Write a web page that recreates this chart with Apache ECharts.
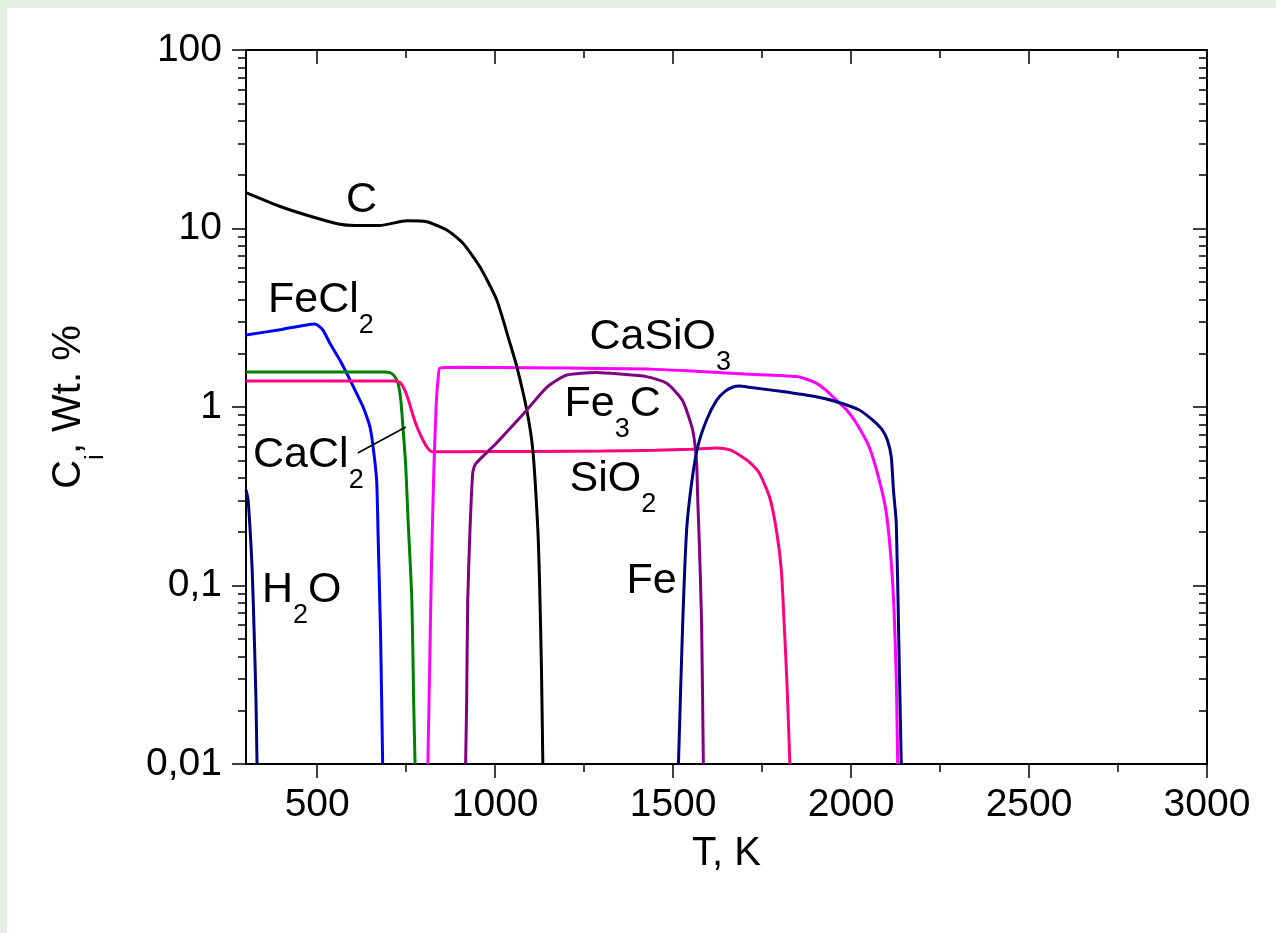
<!DOCTYPE html>
<html>
<head>
<meta charset="utf-8">
<script src="https://cdn.jsdelivr.net/npm/echarts@6/dist/echarts.min.js"></script>
<style>
html, body { margin: 0; padding: 0; width: 1276px; height: 933px; overflow: hidden; background: #e1f0e1; }
#paper { position: absolute; left: 7px; top: 8px; right: 0; bottom: 0; background: #fff; }
#chart { position: absolute; left: 0; top: 0; width: 1276px; height: 933px; }
</style>
</head>
<body>
<div id="paper"></div>
<div id="chart"></div>
<script>
// T in K, concentrations in wt. %
var h2oT = [300, 306, 317, 323, 328, 331];
var h2oC = [0.343, 0.301, 0.127, 0.054, 0.023, 0.01];

var fecl2T = [300, 400, 494, 516, 536, 564, 583, 611, 629, 648, 657, 667, 671, 678, 684];
var fecl2C = [2.53, 2.72, 2.92, 2.70, 2.27, 1.83, 1.545, 1.19, 1.0, 0.776, 0.6, 0.39, 0.197, 0.054, 0.01];

var cacl2T = [300, 690, 704, 716, 727, 735, 741, 749, 755, 766, 771, 775];
var cacl2C = [1.57, 1.57, 1.56, 1.50, 1.36, 1.09, 0.77, 0.46, 0.24, 0.083, 0.023, 0.01];

var sio2T = [300, 715, 724, 735, 746, 758, 769, 782, 797, 810, 822, 900, 1100, 1300, 1450, 1550, 1622, 1660, 1686, 1715, 1742, 1771, 1790, 1804, 1813, 1821, 1828];
var sio2C = [1.40, 1.40, 1.39, 1.36, 1.245, 1.07, 0.90, 0.76, 0.653, 0.59, 0.562, 0.562, 0.563, 0.566, 0.572, 0.58, 0.59, 0.575, 0.538, 0.49, 0.427, 0.313, 0.205, 0.122, 0.056, 0.025, 0.01];

var casio3T = [811, 816, 821, 828, 835, 840, 845, 900, 1100, 1300, 1434, 1527, 1700, 1846, 1875, 1902, 1930, 1959, 1990, 2015, 2051, 2079, 2099, 2113, 2121, 2127, 2131];
var casio3C = [0.01, 0.035, 0.127, 0.461, 1.09, 1.45, 1.65, 1.67, 1.66, 1.645, 1.63, 1.60, 1.53, 1.48, 1.43, 1.36, 1.24, 1.09, 0.95, 0.81, 0.597, 0.39, 0.255, 0.134, 0.07, 0.03, 0.01];

var cT = [300, 400, 488, 560, 606, 676, 752, 808, 864, 909, 957, 1004, 1041, 1061, 1089, 1106, 1120, 1125, 1130, 1134];
var cC = [15.9, 13.2, 11.6, 10.6, 10.4, 10.4, 11.05, 10.9, 9.8, 8.3, 6.1, 4.0, 2.3, 1.68, 0.96, 0.57, 0.205, 0.1, 0.035, 0.01];

var fe3cT = [917, 920, 923, 929, 937, 945, 1004, 1050, 1089, 1145, 1201, 1285, 1350, 1425, 1482, 1526, 1555, 1566, 1569, 1574, 1580, 1585];
var fe3cC = [0.01, 0.023, 0.083, 0.197, 0.427, 0.48, 0.629, 0.79, 0.962, 1.29, 1.51, 1.56, 1.53, 1.48, 1.36, 1.09, 0.743, 0.486, 0.313, 0.164, 0.062, 0.01];

var feT = [1515, 1527, 1538, 1552, 1569, 1594, 1622, 1645, 1667, 1686, 1714, 1807, 1902, 1959, 2023, 2060, 2088, 2102, 2113, 2119, 2127, 2134, 2141];
var feC = [0.01, 0.062, 0.205, 0.375, 0.597, 0.846, 1.09, 1.22, 1.29, 1.31, 1.29, 1.22, 1.14, 1.07, 0.962, 0.846, 0.743, 0.653, 0.525, 0.343, 0.224, 0.05, 0.01];

// CaCl2 leader line
var leaderT = [614, 749];
var leaderC = [0.553, 0.773];

// curve labels: anchor (top-left of text) and text pieces (main, sub, main...)
var labelT = [581, 362, 1265, 1195, 1209, 320, 1369, 345];
var labelC = [19.1, 5.21, 3.23, 1.363, 0.519, 0.706, 0.140, 0.124];
var labelParts = [['C'], ['FeCl', '2'], ['CaSiO', '3'], ['Fe', '3', 'C'], ['SiO', '2'], ['CaCl', '2'], ['Fe'], ['H', '2', 'O']];

// axes
var xMajorTicks = [500, 1000, 1500, 2000, 2500, 3000];
var xMinorTicks = [750, 1250, 1750, 2250, 2750];
var yTickLabels = ['0,01', '0,1', '1', '10', '100'];
var yMinorTicks = [0.02, 0.03, 0.04, 0.05, 0.06, 0.07, 0.08, 0.09,
                   0.2, 0.3, 0.4, 0.5, 0.6, 0.7, 0.8, 0.9,
                   2, 3, 4, 5, 6, 7, 8, 9,
                   20, 30, 40, 50, 60, 70, 80, 90];

var FONT = '"Liberation Sans", Arial, sans-serif';
var black = '#000';

function pairs(t, c) {
  return t.map(function (v, i) { return [v, c[i]]; });
}

function curve(name, color, t, c) {
  return {
    name: name,
    type: 'line',
    data: pairs(t, c),
    symbol: 'none',
    smooth: 0.2,
    lineStyle: { color: color, width: 3 },
    xAxisIndex: 0,
    yAxisIndex: 0
  };
}

var rich = {
  m: { fontSize: 43, fontFamily: FONT, color: black, textBorderWidth: 0, lineHeight: 44, verticalAlign: 'top' },
  s: { fontSize: 27, fontFamily: FONT, color: black, textBorderWidth: 0, lineHeight: 60, verticalAlign: 'bottom' }
};

function richText(parts) {
  return parts.map(function (p, i) { return '{' + (i % 2 ? 's' : 'm') + '|' + p + '}'; }).join('');
}

var labelData = labelT.map(function (t, i) {
  return { value: [t, labelC[i]], label: { formatter: richText(labelParts[i]) } };
});

var tickLine = { color: black, width: 1.5 };
var axisLineStyle = { color: black, width: 2 };

function xTicks(pos, values, len, inside, showLine) {
  return {
    type: 'value', position: pos, min: 300, max: 3000,
    axisLine: { show: showLine, onZero: false, lineStyle: axisLineStyle },
    axisTick: { customValues: values, length: len, inside: inside, lineStyle: tickLine },
    axisLabel: { show: false },
    splitLine: { show: false }
  };
}

function yMinor(pos, inside) {
  return {
    type: 'value', position: pos, min: -2, max: 2,
    axisLine: { show: false, onZero: false },
    axisTick: { customValues: yMinorTicks.map(function (v) { return Math.log10(v); }), length: 8, inside: inside, lineStyle: tickLine },
    axisLabel: { show: false },
    splitLine: { show: false }
  };
}

var chart = echarts.init(document.getElementById('chart'));

chart.setOption({
  animation: false,
  backgroundColor: 'transparent',
  grid: { left: 246, right: 69, top: 50, bottom: 169, outerBoundsMode: 'none' },
  xAxis: [
    {
      type: 'value', position: 'bottom', min: 300, max: 3000,
      axisLine: { onZero: false, lineStyle: axisLineStyle },
      axisTick: { customValues: xMajorTicks, length: 14, lineStyle: tickLine },
      axisLabel: {
        customValues: xMajorTicks, margin: 21, fontSize: 39, lineHeight: 40, fontFamily: FONT, color: black,
        formatter: function (v) { return String(v); }
      },
      splitLine: { show: false },
      name: 'T, K', nameLocation: 'middle', nameGap: 68,
      nameTextStyle: { fontSize: 40, lineHeight: 44, fontFamily: FONT, color: black }
    },
    xTicks('bottom', xMinorTicks, 8, false, false),
    xTicks('top', xMajorTicks, 14, true, true),
    xTicks('top', xMinorTicks, 8, true, false)
  ],
  yAxis: [
    {
      type: 'log', logBase: 10, min: 0.01, max: 100, position: 'left',
      axisLine: { onZero: false, lineStyle: axisLineStyle },
      axisTick: { length: 14, lineStyle: tickLine },
      axisLabel: {
        margin: 24, fontSize: 39, fontFamily: FONT, color: black,
        formatter: function (v) { return yTickLabels[Math.round(Math.log10(v)) + 2]; }
      },
      splitLine: { show: false },
      name: '{m|C}{s|i}{m|, Wt. %}', nameLocation: 'middle', nameRotate: 90, nameGap: 137,
      nameTextStyle: {
        color: black,
        rich: {
          m: { fontSize: 40, fontFamily: FONT, color: black, lineHeight: 44, verticalAlign: 'top' },
          s: { fontSize: 26, fontFamily: FONT, color: black, lineHeight: 60, verticalAlign: 'bottom' }
        }
      }
    },
    yMinor('left', false),
    {
      type: 'log', logBase: 10, min: 0.01, max: 100, position: 'right',
      axisLine: { onZero: false, lineStyle: axisLineStyle },
      axisTick: { length: 14, inside: true, lineStyle: tickLine },
      axisLabel: { show: false },
      splitLine: { show: false }
    },
    yMinor('right', true)
  ],
  series: [
    curve('H2O', '#000080', h2oT, h2oC),
    curve('FeCl2', '#0000ff', fecl2T, fecl2C),
    curve('CaCl2', '#008000', cacl2T, cacl2C),
    curve('SiO2', '#ff0080', sio2T, sio2C),
    curve('CaSiO3', '#ff00ff', casio3T, casio3C),
    curve('C', '#000000', cT, cC),
    curve('Fe3C', '#800080', fe3cT, fe3cC),
    curve('Fe', '#000080', feT, feC),
    {
      type: 'line', data: pairs(leaderT, leaderC), symbol: 'none',
      lineStyle: { color: black, width: 1.6 }, xAxisIndex: 0, yAxisIndex: 0
    },
    {
      type: 'scatter', data: labelData, symbolSize: 0.1,
      itemStyle: { color: 'rgba(0,0,0,0)' },
      xAxisIndex: 0, yAxisIndex: 0, z: 5,
      label: { show: true, position: [0, 0], distance: 0, color: black, opacity: 1, textBorderWidth: 0, rich: rich }
    }
  ]
});
</script>
</body>
</html>
